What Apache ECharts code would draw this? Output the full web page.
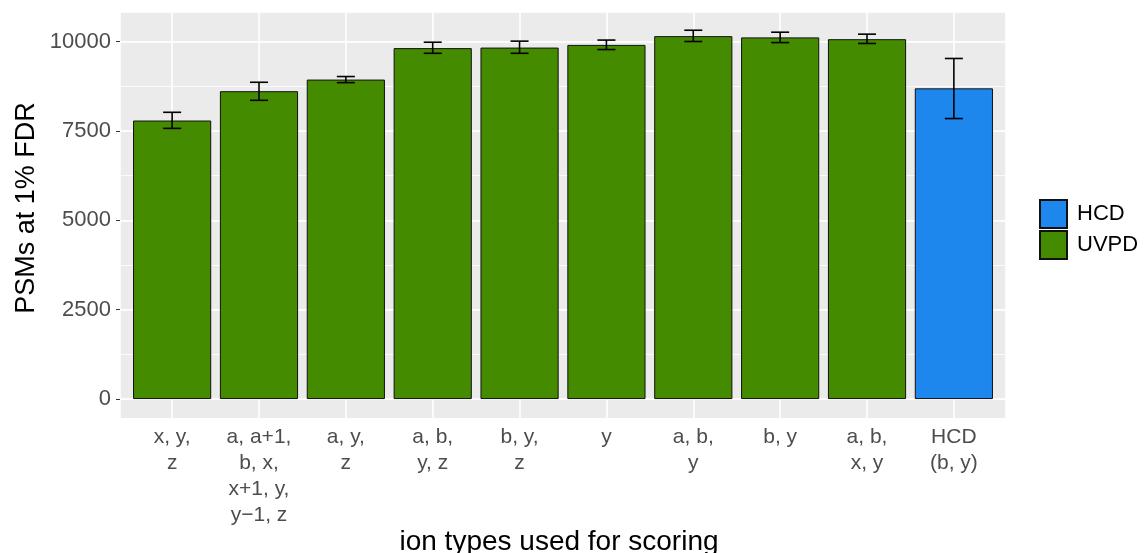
<!DOCTYPE html>
<html>
<head>
<meta charset="utf-8">
<script src="https://cdn.jsdelivr.net/npm/echarts@6/dist/echarts.min.js"></script>
<style>
  html, body { margin: 0; padding: 0; background: #fff; }
  #main { width: 1145px; height: 553px; }
</style>
</head>
<body>
<div id="main"></div>
<script>
// ion type sets on the x axis
var categories = ['x, y,\nz', 'a, a+1,\nb, x,\nx+1, y,\ny\u22121, z', 'a, y,\nz', 'a, b,\ny, z', 'b, y,\nz',
    'y', 'a, b,\ny', 'b, y', 'a, b,\nx, y', 'HCD\n(b, y)'];
var uvpdValues = [7790, 8610, 8935, 9815, 9830, 9905, 10150, 10115, 10065, '-'];
var hcdValues = ['-', '-', '-', '-', '-', '-', '-', '-', '-', 8690];
var errLow = [7570, 8355, 8850, 9670, 9670, 9775, 10000, 9970, 9945, 7845];
var errHigh = [8020, 8860, 9020, 9980, 10010, 10040, 10315, 10260, 10205, 9525];
var yTicks = [0, 2500, 5000, 7500, 10000];

var chartDom = document.getElementById('main');
var myChart = echarts.init(chartDom);
var option;

var font = 'Liberation Sans, Arial, sans-serif';
var yMin = -530, yMax = 10825;

var errData = categories.map(function (c, i) { return [i, errLow[i], errHigh[i]]; });

option = {
    animation: false,
    textStyle: { fontFamily: font },
    grid: [
        // panel background + grid lines
        { left: 120, right: 139, top: 12, bottom: 135, show: true, backgroundColor: '#EBEBEB', borderWidth: 0, outerBoundsMode: 'none' },
        // bars (discrete axis inset like ggplot's 0.6 expansion)
        { left: 128.7, right: 147.7, top: 12, bottom: 135, outerBoundsMode: 'none' }
    ],
    legend: {
        data: ['HCD', 'UVPD'],
        orient: 'vertical',
        left: 1034,
        top: 194,
        itemWidth: 27,
        itemHeight: 28,
        itemGap: 1,
        icon: 'rect',
        textStyle: { fontSize: 22, color: '#000', padding: [0, 0, 0, 5], fontFamily: font }
    },
    xAxis: [
        {
            gridIndex: 0, type: 'value', min: -0.6, max: 9.6, minInterval: 1, maxInterval: 1,
            axisLine: { show: false }, axisTick: { show: false }, axisLabel: { show: false },
            splitLine: { show: true, lineStyle: { color: '#fff', width: 1.6 } }
        },
        {
            gridIndex: 1, type: 'category', data: categories,
            axisLine: { show: false },
            axisTick: { show: false },
            axisLabel: { color: '#4D4D4D', fontSize: 21, lineHeight: 26, margin: 6, interval: 0, fontFamily: font },
            splitLine: { show: false },
            name: 'ion types used for scoring',
            nameLocation: 'middle',
            nameGap: 110,
            nameMoveOverlap: false,
            nameTextStyle: { fontSize: 28, color: '#000', fontFamily: font, padding: [0, 8, 0, 0] }
        }
    ],
    yAxis: [
        {
            gridIndex: 0, type: 'value', position: 'left', min: yMin, max: yMax, minInterval: 1250, maxInterval: 1250,
            axisLine: { show: false }, axisTick: { show: false }, axisLabel: { show: false },
            splitLine: { show: true, lineStyle: { color: '#fff', width: 0.8 } }
        },
        {
            gridIndex: 0, type: 'value', position: 'left', min: yMin, max: yMax, minInterval: 2500, maxInterval: 2500,
            axisLine: { show: false },
            axisTick: { show: true, length: 4, customValues: yTicks, lineStyle: { color: '#333' } },
            axisLabel: {
                show: true, customValues: yTicks, color: '#4D4D4D', fontSize: 22, margin: 9, fontFamily: font,
                formatter: function (v) { return String(v); }
            },
            splitLine: { show: true, lineStyle: { color: '#fff', width: 1.6 } },
            name: 'PSMs at 1% FDR',
            nameLocation: 'middle',
            nameGap: 80,
            nameMoveOverlap: false,
            nameTextStyle: { fontSize: 27, color: '#000', fontFamily: font, padding: [0, 0, 0, 14] }
        },
        {
            gridIndex: 1, type: 'value', min: yMin, max: yMax,
            axisLine: { show: false }, axisTick: { show: false }, axisLabel: { show: false },
            splitLine: { show: false }
        }
    ],
    series: [
        {
            name: 'UVPD', type: 'bar', stack: 'all', xAxisIndex: 1, yAxisIndex: 2,
            barWidth: '90%', data: uvpdValues,
            itemStyle: { color: '#458B00', borderColor: '#111', borderWidth: 1 }
        },
        {
            name: 'HCD', type: 'bar', stack: 'all', xAxisIndex: 1, yAxisIndex: 2,
            barWidth: '90%', data: hcdValues,
            itemStyle: { color: '#1E87EE', borderColor: '#111', borderWidth: 1 }
        },
        {
            name: 'err', type: 'custom', xAxisIndex: 1, yAxisIndex: 2, z: 5,
            data: errData,
            encode: { x: 0, y: [1, 2] },
            renderItem: function (params, api) {
                var i = api.value(0);
                var lo = api.coord([i, api.value(1)]);
                var hi = api.coord([i, api.value(2)]);
                var w = 9;
                var st = { stroke: '#000', lineWidth: 1.6 };
                return {
                    type: 'group',
                    children: [
                        { type: 'line', shape: { x1: hi[0], y1: hi[1], x2: lo[0], y2: lo[1] }, style: st },
                        { type: 'line', shape: { x1: hi[0] - w, y1: hi[1], x2: hi[0] + w, y2: hi[1] }, style: st },
                        { type: 'line', shape: { x1: lo[0] - w, y1: lo[1], x2: lo[0] + w, y2: lo[1] }, style: st }
                    ]
                };
            }
        }
    ]
};

option && myChart.setOption(option);
</script>
</body>
</html>
